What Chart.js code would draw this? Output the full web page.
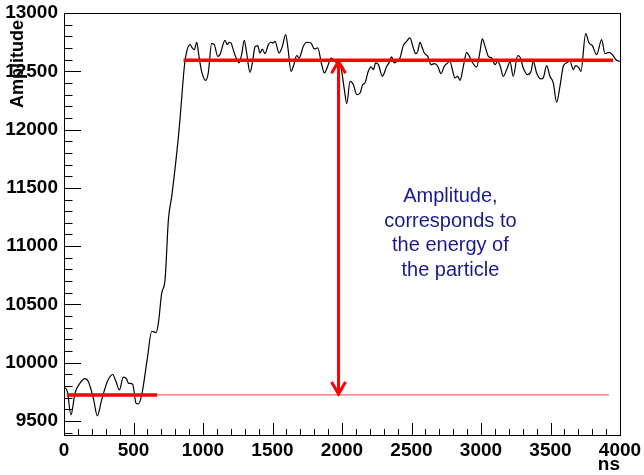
<!DOCTYPE html>
<html>
<head>
<meta charset="utf-8">
<script src="https://cdn.jsdelivr.net/npm/chart.js@4/dist/chart.umd.min.js"></script>
<style>
  body { margin: 0; background: #fff; }
</style>
</head>
<body>
<canvas id="amplitude-chart" width="644" height="475"></canvas>
<script>
// sampled waveform (ns, ADC counts)
const traceNs = [0, 24, 50, 79, 115, 151, 175, 211, 240, 271, 312, 350, 374, 398, 427, 451, 463, 494, 518, 535, 559, 600, 631, 662, 679, 703, 727, 751, 775, 806, 830, 842, 866, 883, 907, 923, 938, 955, 971, 990, 1019, 1038, 1062, 1081, 1106, 1122, 1158, 1175, 1187, 1201, 1225, 1259, 1278, 1297, 1314, 1338, 1355, 1374, 1393, 1410, 1427, 1446, 1470, 1489, 1506, 1518, 1547, 1571, 1595, 1612, 1633, 1650, 1674, 1691, 1722, 1746, 1777, 1801, 1825, 1854, 1873, 1897, 1921, 1950, 1973, 1993, 2017, 2034, 2058, 2082, 2106, 2130, 2149, 2165, 2189, 2209, 2225, 2242, 2262, 2290, 2322, 2338, 2357, 2376, 2400, 2417, 2441, 2465, 2489, 2513, 2530, 2545, 2561, 2578, 2592, 2617, 2641, 2665, 2689, 2712, 2736, 2760, 2777, 2794, 2813, 2832, 2849, 2873, 2897, 2914, 2933, 2969, 2993, 3009, 3029, 3053, 3077, 3101, 3120, 3137, 3160, 3185, 3209, 3232, 3264, 3280, 3304, 3336, 3360, 3376, 3400, 3432, 3448, 3472, 3496, 3520, 3544, 3568, 3592, 3616, 3640, 3664, 3681, 3705, 3719, 3753, 3777, 3801, 3832, 3868, 3892, 3921, 3945, 3976, 4000];
const traceAdc = [9790, 9753, 9553, 9739, 9825, 9864, 9838, 9696, 9544, 9681, 9838, 9899, 9838, 9767, 9876, 9859, 9825, 9816, 9653, 9647, 9724, 10040, 10270, 10259, 10340, 10597, 10711, 11227, 11427, 11742, 12027, 12200, 12543, 12671, 12729, 12700, 12686, 12749, 12628, 12500, 12422, 12486, 12737, 12729, 12628, 12643, 12766, 12729, 12749, 12743, 12657, 12572, 12643, 12766, 12657, 12491, 12572, 12709, 12720, 12657, 12691, 12651, 12729, 12749, 12743, 12757, 12657, 12714, 12815, 12690, 12500, 12543, 12634, 12614, 12714, 12749, 12743, 12692, 12700, 12557, 12486, 12543, 12614, 12586, 12557, 12529, 12342, 12222, 12414, 12385, 12300, 12314, 12385, 12400, 12500, 12537, 12514, 12572, 12557, 12457, 12543, 12572, 12623, 12572, 12590, 12614, 12720, 12757, 12786, 12700, 12651, 12671, 12749, 12700, 12657, 12628, 12557, 12566, 12543, 12480, 12543, 12572, 12586, 12514, 12443, 12457, 12422, 12543, 12663, 12634, 12586, 12537, 12671, 12778, 12714, 12628, 12614, 12557, 12586, 12549, 12457, 12515, 12580, 12457, 12634, 12623, 12529, 12471, 12500, 12586, 12486, 12434, 12443, 12549, 12457, 12400, 12234, 12371, 12543, 12572, 12586, 12514, 12549, 12529, 12500, 12823, 12743, 12720, 12643, 12772, 12651, 12663, 12643, 12594, 12586];

// fitted levels
const baselineLevel = 9724;
const peakLevel = 12594;
const baselineFitNs = [20, 670];
const baselineGuideNs = [670, 3920];
const peakFitNs = [860, 3950];
const arrowNs = 1975;

const xTickLabels = [0, 500, 1000, 1500, 2000, 2500, 3000, 3500, 4000];
const yTickLabels = [9500, 10000, 10500, 11000, 11500, 12000, 12500, 13000];
const noteLines = ["Amplitude,", "corresponds to", "the energy of", "the particle"];

const xTicks = [];
for (let v = 0; v <= 4000; v += 100) xTicks.push(v);
const yTicks = [];
for (let v = 9400; v <= 13000; v += 100) yTicks.push(v);

const FONT = "'Liberation Sans', Arial, Helvetica, sans-serif";
const RED = "#ff0000";

const segment = (range, level) => [
  { x: range[0], y: level },
  { x: range[1], y: level },
];

// frame, inward ticks, arrow heads, y title and the note
const decorations = {
  id: "decorations",
  afterDatasetsDraw(chart) {
    const { ctx, chartArea: a, scales: { x, y } } = chart;
    ctx.save();

    ctx.strokeStyle = "#000";
    ctx.lineWidth = 1;
    ctx.beginPath();
    for (const v of xTicks) {
      const px = Math.round(x.getPixelForValue(v)) + 0.5;
      const len = v % 500 === 0 ? 12 : 6;
      ctx.moveTo(px, a.bottom);
      ctx.lineTo(px, a.bottom - len);
    }
    for (const v of yTicks) {
      const py = Math.round(y.getPixelForValue(v)) + 0.5;
      const len = v % 500 === 0 ? 17 : 8.5;
      ctx.moveTo(a.left, py);
      ctx.lineTo(a.left + len, py);
    }
    ctx.stroke();
    ctx.strokeRect(Math.round(a.left) + 0.5, Math.round(a.top) + 0.5,
      Math.round(a.right - a.left), Math.round(a.bottom - a.top));

    // arrow heads
    const ax = x.getPixelForValue(arrowNs);
    const top = y.getPixelForValue(peakLevel);
    const bot = y.getPixelForValue(baselineLevel);
    ctx.strokeStyle = RED;
    ctx.lineWidth = 3;
    ctx.beginPath();
    ctx.moveTo(ax - 7, top + 13);
    ctx.lineTo(ax, top + 1);
    ctx.lineTo(ax + 7, top + 13);
    ctx.moveTo(ax - 7, bot - 13);
    ctx.lineTo(ax, bot - 1);
    ctx.lineTo(ax + 7, bot - 13);
    ctx.stroke();

    // y axis title, right aligned at the top like ROOT does
    ctx.save();
    ctx.translate(18.5, a.top + 7);
    ctx.rotate(-Math.PI / 2);
    ctx.fillStyle = "#000";
    ctx.font = "bold 18px " + FONT;
    ctx.textAlign = "right";
    ctx.textBaseline = "middle";
    ctx.fillText("Amplitude", 0, 0);
    ctx.restore();

    // note
    ctx.fillStyle = "#1a1a8e";
    ctx.font = "20px " + FONT;
    ctx.textAlign = "center";
    ctx.textBaseline = "middle";
    const nx = x.getPixelForValue(2780);
    const ny = y.getPixelForValue(11424);
    noteLines.forEach((line, i) => ctx.fillText(line, nx, ny + i * 24.5));

    ctx.restore();
  },
};

const config = {
  type: "line",
  data: {
    datasets: [
      { data: segment(peakFitNs, peakLevel), borderColor: RED, borderWidth: 3.5 },
      { data: segment(baselineFitNs, baselineLevel), borderColor: RED, borderWidth: 3.5 },
      { data: segment(baselineGuideNs, baselineLevel), borderColor: "#ff4040", borderWidth: 1 },
      {
        data: [{ x: arrowNs, y: baselineLevel }, { x: arrowNs, y: peakLevel }],
        borderColor: RED,
        borderWidth: 3,
      },
      {
        data: traceNs.map((t, i) => ({ x: t, y: traceAdc[i] })),
        borderColor: "#000",
        borderWidth: 1.2,
        cubicInterpolationMode: "monotone",
      },
    ],
  },
  options: {
    responsive: false,
    animation: false,
    events: [],
    layout: { padding: { top: 13, right: 24, left: 0, bottom: 0 } },
    elements: { point: { radius: 0 } },
    plugins: { legend: { display: false }, tooltip: { enabled: false } },
    scales: {
      x: {
        type: "linear",
        min: 0,
        max: 4000,
        grid: { display: false, drawTicks: false },
        border: { display: false },
        afterBuildTicks: (scale) => {
          scale.ticks = xTicks.map((v) => ({ value: v }));
        },
        afterFit: (scale) => {
          scale.height = 40;
          scale.paddingLeft = 0;
          scale.paddingRight = 0;
        },
        ticks: {
          autoSkip: false,
          maxRotation: 0,
          padding: 4,
          color: "#000",
          font: { family: FONT, size: 19, weight: "bold" },
          callback: (v) => (xTickLabels.includes(v) ? String(v) : ""),
        },
        title: {
          display: true,
          text: "ns",
          align: "end",
          color: "#000",
          padding: { top: 0, bottom: -1.5 },
          font: { family: FONT, size: 19, weight: "bold" },
        },
      },
      y: {
        type: "linear",
        min: 9380,
        max: 13000,
        grid: { display: false, drawTicks: false },
        border: { display: false },
        afterBuildTicks: (scale) => {
          scale.ticks = yTicks.map((v) => ({ value: v }));
        },
        afterFit: (scale) => {
          scale.width = 64;
          scale.paddingTop = 0;
          scale.paddingBottom = 0;
        },
        ticks: {
          autoSkip: false,
          padding: 6,
          color: "#000",
          font: { family: FONT, size: 19, weight: "bold" },
          callback: (v) => (yTickLabels.includes(v) ? String(v) : ""),
        },
      },
    },
  },
  plugins: [decorations],
};

const amplitudeChart = new Chart(document.querySelector("#amplitude-chart"), config);
</script>
</body>
</html>
